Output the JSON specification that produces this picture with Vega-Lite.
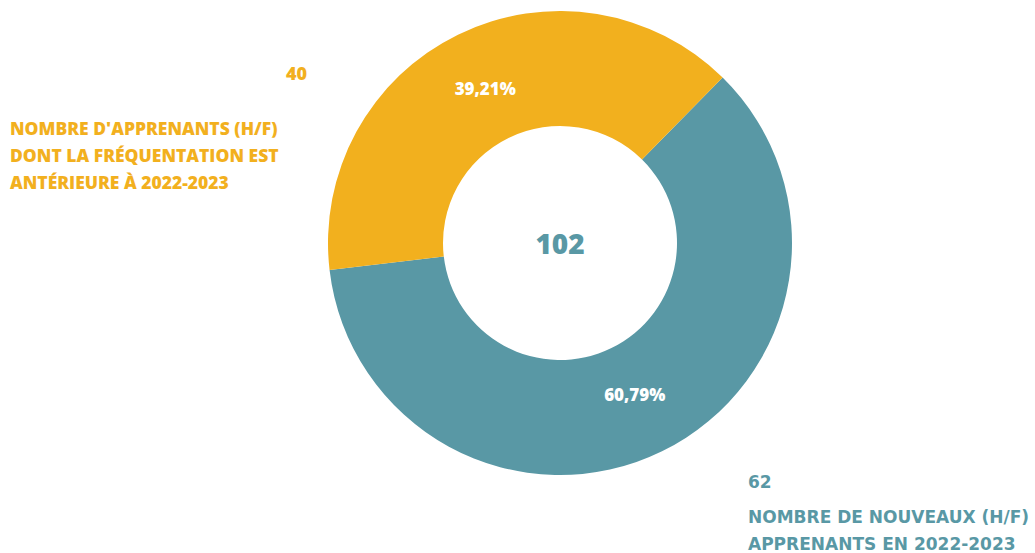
{
  "$schema": "https://vega.github.io/schema/vega-lite/v6.json",
  "width": 1035,
  "height": 553,
  "autosize": {"type": "fit", "contains": "padding"},
  "padding": 0,
  "background": "white",
  "view": {"stroke": null},
  "data": {"values": [
    {"cat": "Nouveaux", "value": 62, "pct": "60,79%", "order": 1},
    {"cat": "Anciens", "value": 40, "pct": "39,21%", "order": 2}
  ]},
  "layer": [
    {
      "mark": {"type": "arc", "outerRadius": 232, "innerRadius": 117},
      "encoding": {
        "x": {"value": 560},
        "y": {"value": 243},
        "theta": {"field": "value", "type": "quantitative", "stack": true, "scale": {"range": [0.7767, 7.0599]}},
        "order": {"field": "order", "type": "quantitative"},
        "color": {"field": "cat", "type": "nominal", "scale": {"domain": ["Nouveaux", "Anciens"], "range": ["#5998A5", "#F2B01E"]}, "legend": null}
      }
    },
    {
      "mark": {"type": "text", "radius": 170, "font": "Open Sans", "fontWeight": 800, "fontSize": 17, "color": "white"},
      "encoding": {
        "x": {"value": 560},
        "y": {"value": 243},
        "theta": {"field": "value", "type": "quantitative", "stack": true},
        "order": {"field": "order", "type": "quantitative"},
        "text": {"field": "pct"}
      }
    },
    {
      "data": {"values": [{"total": "102"}]},
      "mark": {"type": "text", "font": "Open Sans", "fontWeight": 800, "fontSize": 28, "color": "#5998A5", "baseline": "middle", "align": "center"},
      "encoding": {"text": {"field": "total"}, "x": {"value": 560}, "y": {"value": 246}}
    },
    {
      "data": {"values": [{"n": "40", "label": ["NOMBRE D'APPRENANTS (H/F)", "DONT LA FRÉQUENTATION EST", "ANTÉRIEURE À 2022-2023"]}]},
      "layer": [
        {
          "mark": {"type": "text", "font": "Open Sans", "fontWeight": 800, "fontSize": 18, "color": "#F2B01E", "align": "left", "baseline": "alphabetic"},
          "encoding": {"text": {"field": "n"}, "x": {"value": 286}, "y": {"value": 80}}
        },
        {
          "mark": {"type": "text", "font": "Open Sans", "fontWeight": 800, "fontSize": 17.5, "color": "#F2B01E", "align": "left", "baseline": "alphabetic", "lineHeight": 27},
          "encoding": {"text": {"field": "label"}, "x": {"value": 10}, "y": {"value": 135}}
        }
      ]
    },
    {
      "data": {"values": [{"n": "62", "label": ["NOMBRE DE NOUVEAUX (H/F)", "APPRENANTS EN 2022-2023"]}]},
      "layer": [
        {
          "mark": {"type": "text", "font": "DejaVu Sans", "fontWeight": "bold", "fontSize": 17, "color": "#5998A5", "align": "left", "baseline": "alphabetic"},
          "encoding": {"text": {"field": "n"}, "x": {"value": 748}, "y": {"value": 488}}
        },
        {
          "mark": {"type": "text", "font": "DejaVu Sans", "fontWeight": "bold", "fontSize": 17, "color": "#5998A5", "align": "left", "baseline": "alphabetic", "lineHeight": 27},
          "encoding": {"text": {"field": "label"}, "x": {"value": 748}, "y": {"value": 523}}
        }
      ]
    }
  ]
}
